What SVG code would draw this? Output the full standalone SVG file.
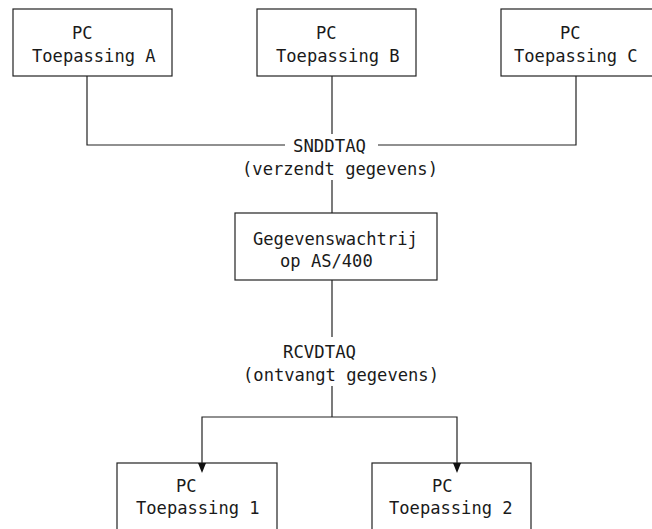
<svg xmlns="http://www.w3.org/2000/svg" width="652" height="529" viewBox="0 0 652 529">
<style>
.box{fill:#fff;stroke:#222;stroke-width:1.2}
.ln{fill:none;stroke:#222;stroke-width:1.2}
.ah{fill:#111}
text{font-family:"DejaVu Sans Mono","Liberation Mono",monospace;font-size:18px;fill:#1a1a1a}
</style>
<rect width="652" height="529" fill="#fff"/>
<g id="nodeA">
<rect class="box" x="13" y="9" width="159" height="67"/>
<text x="72" y="39" textLength="20.6" lengthAdjust="spacingAndGlyphs">PC</text>
<text x="32" y="62" textLength="123.6" lengthAdjust="spacingAndGlyphs">Toepassing A</text>
</g>
<g id="nodeB">
<rect class="box" x="257" y="9" width="159" height="67"/>
<text x="316" y="39" textLength="20.6" lengthAdjust="spacingAndGlyphs">PC</text>
<text x="276" y="62" textLength="123.6" lengthAdjust="spacingAndGlyphs">Toepassing B</text>
</g>
<g id="nodeC">
<rect class="box" x="501" y="9" width="160" height="67"/>
<text x="560" y="39" textLength="20.6" lengthAdjust="spacingAndGlyphs">PC</text>
<text x="514" y="62" textLength="123.6" lengthAdjust="spacingAndGlyphs">Toepassing C</text>
</g>
<g id="queue">
<rect class="box" x="235" y="213" width="202" height="67"/>
<text x="253" y="245" textLength="164.8" lengthAdjust="spacingAndGlyphs">Gegevenswachtrij</text>
<text x="280" y="267" textLength="92.7" lengthAdjust="spacingAndGlyphs">op AS/400</text>
</g>
<g id="node1">
<rect class="box" x="117" y="463" width="160" height="80"/>
<text x="176" y="492" textLength="20.6" lengthAdjust="spacingAndGlyphs">PC</text>
<text x="136" y="514" textLength="123.6" lengthAdjust="spacingAndGlyphs">Toepassing 1</text>
</g>
<g id="node2">
<rect class="box" x="372" y="463" width="159" height="80"/>
<text x="432" y="492" textLength="20.6" lengthAdjust="spacingAndGlyphs">PC</text>
<text x="389" y="514" textLength="123.6" lengthAdjust="spacingAndGlyphs">Toepassing 2</text>
</g>
<g id="connectors">
<path class="ln" d="M87,76 V145 H285"/>
<path class="ln" d="M332,76 V134"/>
<path class="ln" d="M576,76 V145 H378"/>
<path class="ln" d="M332,180 V213"/>
<path class="ln" d="M332,280 V337"/>
<path class="ln" d="M332,386 V417"/>
<path class="ln" d="M332,417 H202 V464"/>
<path class="ln" d="M332,417 H457 V464"/>
<path class="ah" d="M198,463 L206,463 L202,473 Z"/>
<path class="ah" d="M453,463 L461,463 L457,473 Z"/>
<text x="293" y="152" textLength="73" lengthAdjust="spacingAndGlyphs">SNDDTAQ</text>
<text x="242" y="175" textLength="196" lengthAdjust="spacingAndGlyphs">(verzendt gegevens)</text>
<text x="283" y="358" textLength="73" lengthAdjust="spacingAndGlyphs">RCVDTAQ</text>
<text x="243" y="381" textLength="196" lengthAdjust="spacingAndGlyphs">(ontvangt gegevens)</text>
</g>
</svg>
